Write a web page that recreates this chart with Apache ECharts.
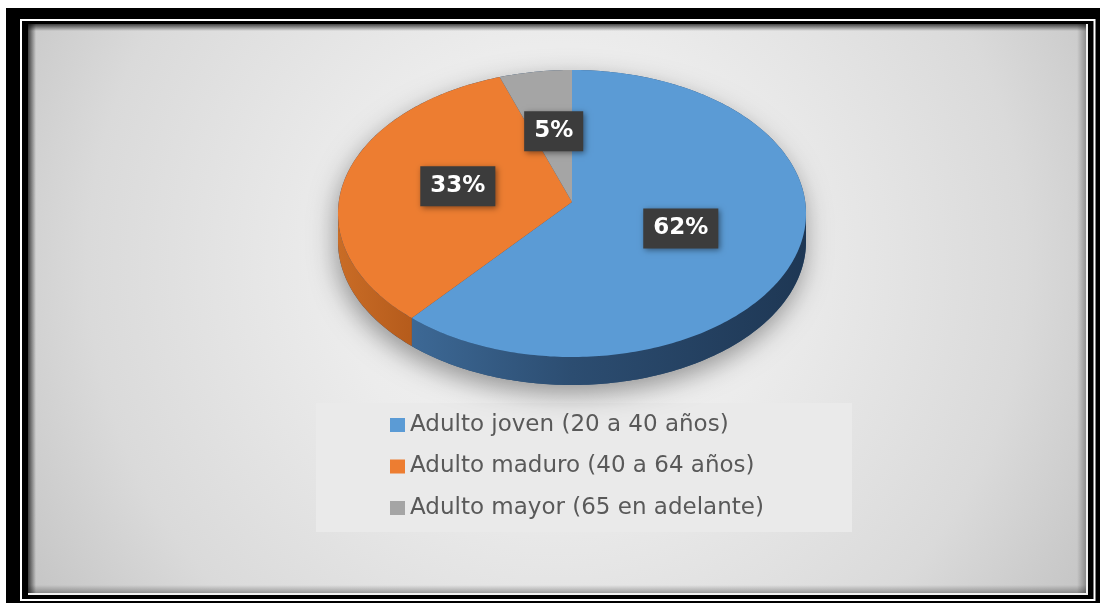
<!DOCTYPE html>
<html>
<head>
<meta charset="utf-8">
<script src="https://cdn.jsdelivr.net/npm/echarts@6/dist/echarts.min.js"></script>
<style>
  html, body { margin: 0; padding: 0; background: #ffffff; }
  #chart { width: 1103px; height: 606px; }
</style>
</head>
<body>
<div id="chart"></div>
<script>
// Age groups and their share of the sample (percent)
const categories = ['Adulto joven (20 a 40 años)', 'Adulto maduro (40 a 64 años)', 'Adulto mayor (65 en adelante)'];
const percentages = [62, 33, 5];

// Palette: top faces and the darker side walls
const sliceColors = ['#5B9BD5', '#ED7D31', '#A5A5A5'];
const sideStops = [
  [[0, '#4676a6'], [0.15, '#3d6996'], [0.5, '#2c4d71'], [1, '#1e3754']],
  [[0, '#c96c26'], [0.15, '#b65c1c'], [1, '#a04e16']],
  [[0, '#8c8c8c'], [1, '#6e6e6e']]
];

// Layout of the tilted pie (ellipse centre, radii, apex, wall depth)
const PIE = { cx: 572, cy: 213.5, apexY: 202, rx: 234, ry: 143.5, depth: 28 };

// Start angle of every slice, degrees clockwise from 12 o'clock
const total = percentages.reduce((a, b) => a + b, 0);
const startAngles = [];
percentages.reduce((acc, v) => { startAngles.push(acc / total * 360); return acc + v; }, 0);

function rimPoint(theta, dy) {
  const r = theta * Math.PI / 180;
  return [PIE.cx + PIE.rx * Math.sin(r), PIE.cy - PIE.ry * Math.cos(r) + (dy || 0)];
}
function arc(a1, a2, dy) {
  const pts = [];
  const n = Math.max(2, Math.ceil(Math.abs(a2 - a1)));
  for (let k = 0; k <= n; k++) pts.push(rimPoint(a1 + (a2 - a1) * k / n, dy));
  return pts;
}

function renderSlice(idx) {
  return function (params, api) {
    const value = api.value(0);
    const a1 = api.value(1);
    const a2 = a1 + value / total * 360;
    const children = [];

    if (idx === 0) {
      // soft drop shadow under the whole disc
      const silhouette = arc(270, 450, 0).concat(arc(90, 270, PIE.depth));
      children.push({
        type: 'polygon', z2: 0, silent: true,
        shape: { points: silhouette },
        style: { fill: '#2c4d71', shadowBlur: 26, shadowColor: 'rgba(0,0,0,0.38)', shadowOffsetY: 9, shadowOffsetX: -2 }
      });
    }

    // visible front wall
    const b1 = Math.max(a1, 90), b2 = Math.min(a2, 270);
    if (b2 > b1) {
      const wall = arc(b1, b2, 0).concat(arc(b2, b1, PIE.depth));
      children.push({
        type: 'polygon', z2: 2,
        shape: { points: wall },
        style: {
          fill: {
            type: 'linear', global: true,
            x: PIE.cx - PIE.rx, y: 0, x2: PIE.cx + PIE.rx, y2: 0,
            colorStops: sideStops[idx].map(s => ({ offset: s[0], color: s[1] }))
          }
        }
      });
    }

    // top face
    const top = [[PIE.cx, PIE.apexY]].concat(arc(a1, a2, 0));
    children.push({
      type: 'polygon', z2: 5,
      shape: { points: top },
      style: { fill: sliceColors[idx] }
    });

    // value label in a dark box, halfway along the mid angle
    const mid = (a1 + a2) / 2 * Math.PI / 180;
    children.push({
      type: 'text', z2: 10,
      x: PIE.cx + 0.5 * PIE.rx * Math.sin(mid),
      y: PIE.apexY - 0.5 * PIE.ry * Math.cos(mid),
      style: {
        text: value + '%',
        fill: '#ffffff',
        font: 'bold 23px "DejaVu Sans"',
        align: 'center',
        verticalAlign: 'middle',
        lineHeight: 24,
        backgroundColor: '#3c3c3c',
        padding: [8, 10, 8, 10],
        shadowBlur: 6,
        shadowColor: 'rgba(0,0,0,0.45)',
        shadowOffsetX: 2,
        shadowOffsetY: 2
      }
    });

    return { type: 'group', children };
  };
}

const chart = echarts.init(document.getElementById('chart'), null, { renderer: 'canvas' });

const option = {
  animation: false,
  backgroundColor: '#ffffff',
  color: sliceColors,
  graphic: [
    // outer black frame with a double white rule
    { type: 'rect', z: 0, silent: true, shape: { x: 6, y: 8, width: 1094, height: 595 }, style: { fill: '#000000' } },
    { type: 'rect', z: 0, silent: true, shape: { x: 21, y: 20, width: 1073.5, height: 580 }, style: { fill: 'none', stroke: '#ffffff', lineWidth: 2 } },
    { type: 'polyline', z: 0, silent: true, shape: { points: [[1087, 24], [1087, 594], [28, 594]] }, style: { stroke: '#f2f2f2', lineWidth: 2, fill: 'none' } },
    // grey panel
    {
      type: 'rect', z: 0, silent: true,
      shape: { x: 28, y: 24, width: 1058, height: 569 },
      style: {
        fill: {
          type: 'radial', x: 0.5, y: 0.42, r: 1.1,
          colorStops: [
            { offset: 0, color: '#f3f3f3' },
            { offset: 0.35, color: '#ececec' },
            { offset: 0.75, color: '#dadada' },
            { offset: 1, color: '#c4c4c4' }
          ]
        }
      }
    },
    // inner bevel shading along the panel edges
    { type: 'rect', z: 0, silent: true, shape: { x: 28, y: 24, width: 8, height: 569 },
      style: { fill: { type: 'linear', x: 0, y: 0, x2: 1, y2: 0, colorStops: [{ offset: 0, color: 'rgba(0,0,0,0.7)' }, { offset: 1, color: 'rgba(0,0,0,0)' }] } } },
    { type: 'rect', z: 0, silent: true, shape: { x: 28, y: 24, width: 1058, height: 7 },
      style: { fill: { type: 'linear', x: 0, y: 0, x2: 0, y2: 1, colorStops: [{ offset: 0, color: 'rgba(0,0,0,0.7)' }, { offset: 1, color: 'rgba(0,0,0,0)' }] } } },
    { type: 'rect', z: 0, silent: true, shape: { x: 1077, y: 24, width: 9, height: 569 },
      style: { fill: { type: 'linear', x: 0, y: 0, x2: 1, y2: 0, colorStops: [{ offset: 0, color: 'rgba(0,0,0,0)' }, { offset: 1, color: 'rgba(0,0,0,0.3)' }] } } },
    { type: 'rect', z: 0, silent: true, shape: { x: 28, y: 585, width: 1058, height: 8 },
      style: { fill: { type: 'linear', x: 0, y: 0, x2: 0, y2: 1, colorStops: [{ offset: 0, color: 'rgba(0,0,0,0)' }, { offset: 1, color: 'rgba(0,0,0,0.3)' }] } } },
    // legend backdrop
    { type: 'rect', z: 1, silent: true, shape: { x: 316, y: 403, width: 536, height: 129 }, style: { fill: '#eaeaea' } }
  ],
  legend: {
    data: categories,
    orient: 'vertical',
    left: 390,
    top: 413,
    padding: 0,
    itemWidth: 15,
    itemHeight: 14,
    itemGap: 17.5,
    icon: 'rect',
    selectedMode: false,
    textStyle: { fontFamily: 'DejaVu Sans', fontSize: 23, color: '#595959', lineHeight: 24 }
  },
  series: categories.map((name, i) => ({
    type: 'custom',
    name: name,
    coordinateSystem: 'none',
    itemStyle: { color: sliceColors[i] },
    emphasis: { disabled: true },
    silent: true,
    data: [[percentages[i], startAngles[i]]],
    renderItem: renderSlice(i)
  }))
};

chart.setOption(option);
</script>
</body>
</html>
